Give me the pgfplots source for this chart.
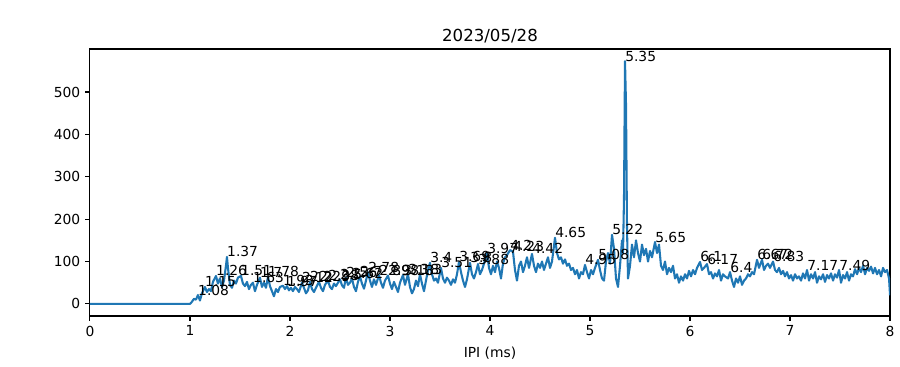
\documentclass[border=0pt]{standalone}
\usepackage{fontspec}
\setmainfont{DejaVu Sans}
\usepackage{pgfplots}
\usepackage{pgfplotstable}
\pgfplotsset{compat=1.18}
\definecolor{mplblue}{HTML}{1F77B4}

\pgfplotstableread{
x y
0.00 0
0.98 0
1.00 0
1.02 5
1.04 12
1.06 10
1.08 21
1.10 8
1.12 25
1.15 40
1.17 28
1.19 35
1.21 30
1.23 52
1.26 66
1.28 48
1.30 60
1.32 40
1.34 55
1.36 90
1.37 111
1.38 85
1.40 45
1.42 38
1.44 55
1.46 48
1.48 62
1.51 66
1.53 48
1.55 42
1.57 52
1.59 35
1.61 45
1.63 50
1.65 30
1.67 45
1.70 62
1.72 40
1.74 50
1.76 38
1.78 64
1.80 42
1.82 30
1.84 18
1.86 35
1.88 28
1.90 40
1.93 43
1.95 35
1.97 42
1.99 32
2.01 38
2.03 30
2.05 40
2.07 35
2.09 28
2.12 50
2.14 38
2.16 25
2.18 32
2.20 52
2.22 35
2.24 28
2.26 38
2.29 52
2.31 38
2.33 30
2.35 45
2.38 55
2.40 40
2.42 35
2.44 48
2.46 42
2.50 58
2.52 44
2.54 38
2.56 62
2.58 45
2.60 50
2.62 60
2.64 40
2.66 30
2.68 52
2.70 65
2.72 48
2.74 36
2.76 55
2.78 75
2.80 55
2.82 40
2.84 58
2.86 45
2.89 68
2.91 50
2.93 38
2.95 55
2.98 67
3.00 48
3.02 35
3.04 52
3.06 40
3.08 28
3.10 50
3.13 68
3.15 45
3.18 70
3.20 40
3.22 25
3.24 35
3.26 55
3.28 42
3.30 70
3.32 48
3.34 30
3.36 55
3.38 80
3.40 97
3.42 70
3.44 55
3.46 60
3.48 50
3.51 85
3.53 60
3.55 50
3.57 62
3.59 55
3.61 45
3.63 58
3.65 50
3.67 70
3.69 99
3.71 75
3.73 55
3.75 40
3.77 58
3.80 97
3.82 70
3.84 60
3.86 75
3.88 94
3.90 70
3.92 80
3.94 95
3.97 120
3.99 85
4.01 70
4.03 90
4.05 75
4.07 100
4.09 85
4.11 60
4.13 95
4.15 110
4.17 115
4.20 127
4.23 123
4.25 80
4.27 55
4.29 90
4.31 100
4.33 75
4.35 90
4.37 110
4.39 85
4.42 118
4.44 90
4.46 75
4.48 95
4.50 85
4.52 100
4.54 80
4.56 95
4.58 110
4.60 85
4.62 100
4.65 156
4.67 120
4.69 105
4.71 110
4.73 95
4.75 105
4.77 90
4.79 95
4.81 80
4.83 85
4.85 70
4.87 80
4.89 60
4.91 75
4.93 70
4.95 92
4.97 75
4.99 60
5.01 80
5.03 70
5.05 85
5.08 104
5.10 80
5.12 60
5.14 55
5.16 100
5.18 120
5.20 95
5.22 163
5.24 130
5.26 60
5.28 40
5.30 90
5.32 150
5.33 120
5.34 250
5.35 573
5.36 470
5.37 180
5.38 60
5.40 90
5.42 140
5.44 110
5.46 150
5.48 120
5.50 100
5.52 140
5.54 115
5.56 130
5.58 100
5.60 125
5.62 110
5.65 146
5.67 120
5.69 140
5.71 90
5.73 80
5.75 100
5.77 70
5.79 85
5.81 75
5.83 90
5.85 60
5.87 70
5.89 50
5.91 65
5.93 55
5.95 70
5.97 60
5.99 78
6.01 65
6.03 80
6.05 70
6.07 85
6.10 99
6.12 80
6.14 85
6.17 94
6.19 70
6.21 75
6.23 60
6.25 72
6.27 65
6.29 80
6.31 55
6.33 70
6.35 65
6.38 60
6.40 75
6.42 55
6.44 40
6.46 60
6.48 50
6.50 65
6.52 45
6.54 55
6.56 60
6.58 70
6.60 65
6.62 75
6.64 70
6.67 104
6.69 85
6.72 104
6.74 80
6.76 90
6.78 95
6.80 85
6.83 100
6.85 80
6.87 75
6.89 85
6.91 70
6.93 78
6.95 65
6.97 75
6.99 60
7.01 68
7.03 55
7.05 70
7.07 60
7.09 65
7.11 55
7.13 72
7.15 60
7.17 80
7.19 55
7.21 70
7.23 60
7.25 75
7.27 50
7.29 65
7.31 58
7.33 70
7.35 52
7.37 68
7.39 60
7.41 72
7.43 55
7.45 70
7.47 62
7.49 80
7.51 50
7.53 68
7.55 60
7.57 75
7.59 55
7.61 70
7.63 65
7.65 82
7.67 70
7.69 85
7.71 75
7.73 90
7.75 70
7.77 85
7.79 78
7.81 88
7.83 72
7.85 85
7.87 70
7.89 80
7.91 65
7.93 85
7.95 75
7.97 80
7.99 60
8.00 20
}\ipidata

\pgfplotstableread{
x y lab
1.08 21 1.08
1.15 40 1.15
1.26 66 1.26
1.37 111 1.37
1.51 66 1.51
1.63 50 1.63
1.70 62 1.7
1.78 64 1.78
1.93 43 1.93
1.97 42 1.97
2.12 50 2.12
2.20 52 2.2
2.29 52 2.29
2.38 55 2.38
2.50 58 2.5
2.56 62 2.56
2.62 60 2.62
2.70 65 2.7
2.78 75 2.78
2.89 68 2.89
2.98 67 2.98
3.13 68 3.13
3.18 70 3.18
3.30 70 3.3
3.40 97 3.4
3.51 85 3.51
3.69 99 3.69
3.80 97 3.8
3.88 94 3.88
3.97 120 3.97
4.20 127 4.2
4.23 123 4.23
4.42 118 4.42
4.65 156 4.65
4.95 92 4.95
5.08 104 5.08
5.22 163 5.22
5.35 573 5.35
5.65 146 5.65
6.10 99 6.1
6.17 94 6.17
6.40 75 6.4
6.67 104 6.67
6.72 104 6.72
6.83 100 6.83
7.17 80 7.17
7.49 80 7.49
}\peaks

\begin{document}
\begin{tikzpicture}
\useasboundingbox (-65.0pt,-36.1pt) rectangle (585.4pt,228.4pt);
\begin{axis}[
  scale only axis, width=578.2pt, height=193pt,
  at={(0,0)}, anchor=south west,
  xmin=0, xmax=8, ymin=-28.65, ymax=601.6,
  xtick={0,1,...,8}, ytick={0,100,...,500},
  tick align=outside, tick pos=left,
  major tick length=3.5pt,
  every tick/.style={black, line width=0.8pt},
  axis line style={line width=0.8pt},
  /pgf/number format/assume math mode=true,
  tick label style={font=\fontsize{10}{12}\selectfont},
  title={2023/05/28},
  title style={at={(0.5,1)}, anchor=base, yshift=-0.5pt, inner sep=0pt, font=\fontsize{12}{14}\selectfont},
  xlabel={IPI (ms)},
  xlabel style={at={(0.5,0)}, anchor=base, yshift=-30pt, inner sep=0pt, font=\fontsize{10}{12}\selectfont},
]
\addplot[mplblue, line width=1.5pt, line join=round] table[x=x, y=y] {\ipidata};
\addplot[draw=none, mark=none, nodes near coords, point meta=explicit symbolic,
  every node near coord/.style={anchor=base west, inner sep=0pt, text=black, font=\fontsize{10}{12}\selectfont}]
  table[x=x, y=y, meta=lab] {\peaks};
\end{axis}
\end{tikzpicture}
\end{document}
